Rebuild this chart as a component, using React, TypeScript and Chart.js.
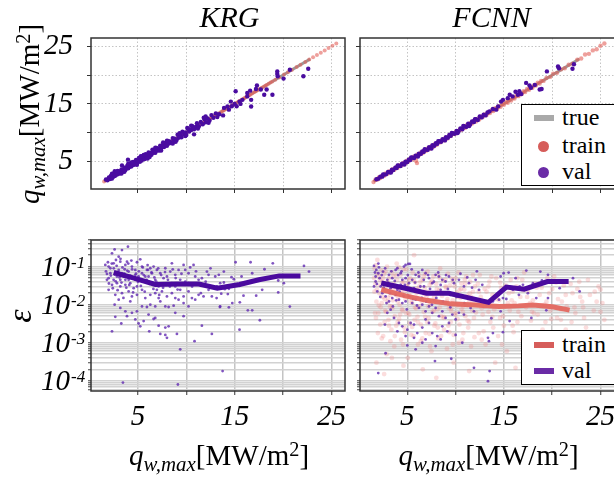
import React, { useEffect, useRef } from 'react';
import { Chart, registerables } from 'chart.js';

Chart.register(...registerables);

// ---------------------------------------------------------------- layout constants
const W = 640;
const H = 479;
const SERIF = '"Liberation Serif", "Times New Roman", serif';

// ---------------------------------------------------------------- tick data
const qTickValues = [5, 10, 15, 20, 25];
const qTickLabels = [5, 15, 25];
const errDecades = [-5, -4, -3, -2, -1];
const errMantissas = [1, 2, 3, 4, 5, 6, 7, 8, 9];
const errLabelExps = [-4, -3, -2, -1];

const Q_LEFT_RANGE = [0.15, 26.4];
const Q_RIGHT_RANGE = [0.1, 26.5];
const Q_Y_RANGE = [0.2, 26.46];
const ERR_RANGE = [5.4e-5, 0.5];

// ---------------------------------------------------------------- series data
// "true" reference line (q_true = q_pred) endpoints
const trueLineQ = [1.5, 22.8];

// KRG training samples: KRG interpolates its training points (pred == true)
const krgTrainQ = [
  1.5, 1.7, 1.85, 2.05, 2.2, 2.4, 2.55, 2.75, 2.95, 3.1, 3.3, 3.45, 3.65, 3.85, 4.0, 4.2, 4.4, 4.55,
  4.75, 4.95, 5.1, 5.3, 5.5, 5.65, 5.85, 6.05, 6.2, 6.4, 6.6, 6.75, 6.95, 7.15, 7.3, 7.5, 7.7, 7.85,
  8.05, 8.25, 8.4, 8.6, 8.8, 8.95, 9.15, 9.35, 9.5, 9.7, 9.9, 10.05, 10.25, 10.45, 10.6, 10.8, 11.0,
  11.15, 11.35, 11.55, 11.7, 11.9, 12.1, 12.25, 12.45, 12.65, 12.8, 13.0, 13.2, 13.35, 13.55, 13.75,
  13.9, 14.1, 14.3, 14.45, 14.65, 14.85, 15.0, 15.2, 15.4, 15.55, 15.75, 15.95, 16.1, 16.3, 16.5,
  16.65, 16.85, 17.05, 17.2, 17.4, 17.6, 17.75, 17.95, 18.15, 18.3, 18.5, 18.7, 18.9, 19.2, 19.6,
  20.1, 20.5, 20.9, 21.4, 21.8, 22.3, 22.7, 23.1, 23.5, 23.9, 24.3, 24.7, 25.1, 25.5,
];

// KRG validation [true, predicted]
const krgValTop = [
  [1.7, 1.85], [1.85, 1.7], [2.0, 2.2], [2.1, 1.95], [2.2, 2.45], [2.32, 2.85], [2.4, 2.25], [2.5, 2.8],
  [2.6, 2.45], [2.6, 3.3], [2.7, 2.6], [2.8, 3.1], [2.9, 2.75], [3.0, 3.3], [3.1, 2.9], [3.2, 3.05],
  [3.3, 3.6], [3.35, 4.3], [3.4, 3.2], [3.5, 3.45], [3.6, 3.9], [3.7, 3.5], [3.8, 3.75], [3.9, 4.25],
  [3.97, 5.3], [4.0, 3.8], [4.1, 4.05], [4.2, 4.55], [4.3, 4.1], [4.4, 4.3], [4.5, 4.9], [4.6, 4.4],
  [4.7, 4.65], [4.8, 5.25], [4.9, 4.7], [5.0, 5.05], [5.1, 5.6], [5.2, 4.95], [5.3, 5.45], [5.4, 5.15],
  [5.5, 5.95], [5.6, 5.5], [5.7, 5.4], [5.8, 6.25], [5.9, 5.8], [6.0, 6.05], [6.1, 6.55], [6.2, 6.0],
  [6.3, 6.45], [6.4, 6.15], [6.5, 7.05], [6.6, 6.5], [6.7, 6.8], [6.8, 6.5], [6.9, 7.35], [7.0, 6.9],
  [7.1, 7.25], [7.2, 6.9], [7.3, 7.75], [7.4, 7.3], [7.5, 7.55], [7.6, 7.95], [7.7, 7.5], [7.8, 8.15],
  [7.9, 7.8], [8.0, 7.7], [8.1, 8.55], [8.2, 8.1], [8.3, 8.45], [8.5, 8.2], [8.6, 9.05], [8.7, 8.6],
  [8.8, 8.95], [9.0, 8.7], [9.1, 9.65], [9.2, 9.1], [9.4, 9.55], [9.5, 9.2], [9.6, 10.15], [9.8, 9.7],
  [9.9, 10.05], [10.0, 9.6], [10.2, 10.65], [10.3, 10.2], [10.5, 10.45], [10.6, 11.15], [10.8, 10.6],
  [10.8, 9.7], [11.0, 11.05], [11.1, 11.65], [11.3, 11.1], [11.5, 11.85], [11.7, 11.45], [11.9, 12.35],
  [12.0, 11.8], [12.2, 12.45], [12.4, 12.1], [12.6, 13.05], [12.8, 12.6], [13.05, 13.35], [13.2, 12.7],
  [13.4, 13.2], [13.8, 13.0], [13.9, 14.3], [14.25, 14.55], [14.4, 14.0], [14.6, 15.4], [14.7, 14.6],
  [15.0, 15.0], [15.1, 17.2], [15.2, 14.6], [15.5, 15.4], [15.6, 15.0], [15.8, 15.7], [16.3, 16.3],
  [16.3, 16.9], [16.6, 17.3], [16.7, 14.55], [16.7, 15.7], [17.2, 17.6], [17.3, 18.2], [17.7, 17.5],
  [18.05, 16.6], [18.3, 17.5], [18.9, 16.6], [19.4, 20.65], [19.4, 20.2], [19.45, 19.8], [20.05, 19.4],
  [20.7, 20.95], [22.1, 19.8], [22.6, 21.1],
  [2.3, 2.0], [2.9, 3.35], [3.6, 3.2], [4.3, 4.8], [4.9, 4.4], [5.6, 6.1], [6.2, 5.75], [6.8, 7.4],
  [7.4, 6.9], [8.0, 8.6], [8.6, 8.1], [9.3, 9.9], [9.9, 9.4], [10.5, 11.2], [11.2, 10.7], [11.8, 12.6],
  [12.3, 11.7], [3.3, 2.9], [4.0, 4.6], [5.3, 5.9], [6.0, 5.5], [7.6, 8.3], [8.9, 8.4], [10.1, 10.8],
  [12.0, 12.8],
];

// FCNN training [true, predicted]
const fcnnTrainTop = [
  [1.5, 1.4], [1.7, 1.8], [1.9, 1.85], [2.05, 2.2], [2.2, 2.1], [2.4, 2.5], [2.6, 2.5], [2.75, 2.9],
  [2.95, 2.85], [3.1, 3.25], [3.3, 3.2], [3.5, 3.65], [3.65, 3.55], [3.85, 4.0], [4.0, 3.9], [4.2, 4.35],
  [4.4, 4.3], [4.55, 4.7], [4.75, 4.6], [4.95, 5.1], [5.1, 5.0], [5.3, 5.45], [5.5, 5.35], [5.65, 5.8],
  [5.85, 5.75], [5.9, 5.1], [6.0, 4.7], [6.05, 6.2], [6.2, 6.1], [6.4, 6.55], [6.6, 6.45], [6.75, 6.9],
  [6.95, 6.85], [7.15, 7.3], [7.3, 7.2], [7.5, 7.65], [7.7, 7.55], [7.85, 8.0], [8.05, 7.9], [8.25, 8.4],
  [8.4, 8.3], [8.6, 8.75], [8.8, 8.65], [8.95, 9.1], [9.15, 9.0], [9.35, 9.5], [9.5, 9.4], [9.7, 9.85],
  [9.9, 9.75], [10.05, 10.2], [10.25, 10.1], [10.45, 10.6], [10.6, 10.5], [10.8, 10.95], [11.0, 10.85],
  [11.15, 11.3], [11.35, 11.2], [11.55, 11.7], [11.7, 11.6], [11.9, 12.05], [12.1, 11.95], [12.25, 12.4],
  [12.45, 12.3], [12.65, 12.8], [12.8, 12.7], [13.0, 13.15], [13.2, 13.05], [13.35, 13.5], [13.55, 13.4],
  [13.75, 13.95], [13.9, 13.75], [14.1, 14.25], [14.3, 14.1], [14.45, 14.6], [14.65, 14.5], [14.85, 15.0],
  [15.0, 14.85], [15.2, 15.35], [15.4, 15.2], [15.55, 15.7], [15.75, 15.6], [15.95, 16.1], [16.1, 15.95],
  [16.3, 16.45], [16.5, 16.35], [16.65, 16.8], [16.85, 16.7], [17.05, 17.2], [17.2, 17.05], [17.4, 17.6],
  [17.6, 17.45], [17.75, 17.9], [17.95, 17.8], [18.15, 18.3], [18.3, 18.2], [18.5, 18.7], [18.7, 18.55],
  [18.85, 19.0], [19.1, 19.0], [19.4, 19.5], [19.8, 19.7], [20.1, 20.25], [20.5, 20.4], [20.9, 21.0],
  [21.3, 21.2], [21.7, 21.8], [22.1, 22.0], [22.6, 22.7], [23.0, 22.9], [23.4, 23.6], [23.8, 23.7],
  [24.2, 24.3], [24.6, 24.5], [25.0, 25.1], [25.4, 25.5],
];

// FCNN validation [true, predicted]
const fcnnValTop = [
  [1.8, 1.9], [2.0, 2.0], [2.2, 2.35], [2.4, 2.35], [2.6, 2.7], [2.8, 2.75], [3.0, 3.15], [3.2, 3.1],
  [3.4, 3.55], [3.55, 3.5], [3.75, 3.9], [3.9, 3.85], [4.1, 4.25], [4.3, 4.2], [4.45, 4.6], [4.6, 4.55],
  [4.8, 4.95], [5.0, 4.9], [5.15, 5.3], [5.3, 5.25], [5.5, 5.65], [5.7, 5.6], [5.85, 6.0], [6.0, 5.95],
  [6.2, 6.35], [6.4, 6.3], [6.55, 6.75], [6.7, 6.65], [6.9, 7.05], [7.1, 7.0], [7.25, 7.45], [7.4, 7.35],
  [7.6, 7.8], [7.8, 7.7], [7.95, 8.15], [8.1, 8.05], [8.3, 8.5], [8.5, 8.4], [8.65, 8.85], [8.8, 8.75],
  [9.0, 9.2], [9.2, 9.1], [9.35, 9.6], [9.5, 9.45], [9.7, 9.9], [9.9, 9.8], [10.1, 10.3], [10.3, 10.2],
  [10.5, 10.75], [10.7, 10.6], [10.9, 11.1], [11.1, 11.0], [11.3, 11.55], [11.5, 11.4], [11.7, 11.95],
  [11.9, 11.85], [12.1, 12.35], [12.3, 12.2], [12.5, 12.8], [12.7, 12.65], [12.9, 13.1], [13.1, 13.0],
  [13.3, 13.5], [13.5, 13.7], [13.86, 14.1], [14.2, 14.0], [14.4, 14.57], [14.7, 15.4], [14.9, 15.7],
  [15.4, 16.0], [15.6, 16.6], [15.9, 16.3], [16.2, 17.1], [16.45, 16.6], [16.6, 17.2], [16.8, 16.7],
  [17.3, 18.65], [17.65, 18.2], [17.8, 17.8], [18.2, 18.3], [18.7, 17.5], [18.9, 17.6], [19.45, 20.65],
  [20.6, 21.5], [20.7, 21.2], [22.1, 21.1], [22.25, 21.9],
  [2.5, 2.75], [3.3, 3.05], [4.0, 4.3], [4.7, 4.45], [5.4, 5.7], [6.1, 5.85], [6.8, 7.1], [7.5, 7.25],
  [8.2, 8.5], [8.9, 8.65], [9.6, 9.95], [10.2, 9.95], [10.8, 11.15], [11.4, 11.15], [12.0, 12.35],
];

// KRG validation relative error [q_true, eps]
const krgValErr = [
  [2.59, 0.283], [3.35, 0.272], [3.97, 0.333], [2.32, 0.223], [3.01, 0.182], [2.73, 0.149], [3.18, 0.135],
  [2.49, 0.122], [1.63, 0.111], [1.97, 0.1], [3.87, 0.135], [4.32, 0.144], [5.24, 0.155], [4.38, 0.1],
  [4.73, 0.0818], [4.04, 0.0741], [3.63, 0.0852], [3.35, 0.067], [3.01, 0.0818], [2.15, 0.067],
  [1.8, 0.0644], [1.97, 0.0497], [2.49, 0.0449], [2.83, 0.0367], [2.32, 0.0333], [3.18, 0.0301],
  [3.7, 0.0333], [4.21, 0.0367], [4.73, 0.0449], [5.07, 0.0549], [5.42, 0.067], [5.93, 0.0818],
  [6.28, 0.0905], [6.62, 0.1], [6.96, 0.0818], [6.1, 0.0549], [6.79, 0.0449], [7.31, 0.067],
  [7.65, 0.0497], [8.0, 0.0549], [8.51, 0.122], [8.34, 0.0741], [8.86, 0.0607], [9.2, 0.0818],
  [9.72, 0.111], [9.89, 0.0818], [10.23, 0.067], [10.75, 0.111], [10.92, 0.0549], [11.27, 0.0449],
  [11.61, 0.0497], [12.13, 0.0741], [12.3, 0.0607], [12.99, 0.0549], [13.16, 0.0301], [13.5, 0.0367],
  [1.97, 0.0246], [2.66, 0.0182], [3.35, 0.0201], [4.04, 0.0223], [4.38, 0.0165], [4.9, 0.0182],
  [5.42, 0.0246], [5.76, 0.0149], [6.28, 0.0182], [6.79, 0.0201], [7.14, 0.0149], [7.48, 0.0223],
  [8.0, 0.0165], [8.51, 0.0201], [8.86, 0.0301], [9.37, 0.0246], [9.72, 0.0165], [10.23, 0.0223],
  [10.58, 0.0149], [11.27, 0.0182], [11.78, 0.0165], [12.3, 0.0246], [12.64, 0.0165], [2.59, 0.01],
  [3.18, 0.0082], [3.7, 0.0067], [4.38, 0.0061], [4.9, 0.0067], [5.42, 0.009], [5.93, 0.0087],
  [6.28, 0.01], [6.79, 0.009], [7.31, 0.0122], [7.83, 0.009], [8.17, 0.0087], [8.69, 0.0094],
  [9.2, 0.0135], [9.72, 0.011], [10.23, 0.009], [10.92, 0.0135], [13.5, 0.009], [2.66, 0.0048],
  [3.87, 0.005], [4.73, 0.0041], [5.07, 0.0032], [5.24, 0.0027], [5.59, 0.0037], [6.1, 0.0055],
  [6.62, 0.0042], [6.79, 0.0045], [7.14, 0.0028], [7.83, 0.0025], [8.17, 0.0027], [8.86, 0.0061],
  [9.72, 0.005], [11.61, 0.0028], [2.32, 0.002], [3.28, 0.0032], [6.17, 0.002], [7.31, 0.0017],
  [7.83, 0.0016], [8.0, 0.00135], [9.03, 0.0017], [10.85, 0.0011], [12.64, 0.0017], [9.37, 0.00067],
  [13.75, 0.00018], [3.45, 0.00009], [9.13, 0.00008], [6.04, 0.0818], [4.73, 0.0607], [2.15, 0.0905],
  [3.52, 0.0549], [2.83, 0.0549], [4.9, 0.0301], [5.59, 0.0406], [6.45, 0.0367], [7.14, 0.0301],
  [7.65, 0.0333], [8.51, 0.0367], [9.37, 0.0449], [10.23, 0.0367], [4.04, 0.0449], [5.76, 0.0549],
  [6.45, 0.067], [7.83, 0.0905], [1.8, 0.0449], [3.18, 0.0449], [5.42, 0.1], [3.7, 0.111],
  [4.56, 0.0272], [6.96, 0.0246], [8.86, 0.0149], [4.21, 0.0122], [3.01, 0.0135],
  [15.09, 0.13], [16.64, 0.13], [18.94, 0.122], [22.16, 0.104], [22.68, 0.0741], [18.08, 0.0852],
  [16.81, 0.067], [13.88, 0.0741], [13.36, 0.0607], [14.67, 0.0527], [14.91, 0.0468], [15.5, 0.0313],
  [15.71, 0.0549], [13.88, 0.0383], [14.4, 0.0261], [13.98, 0.0255], [13.13, 0.0149], [13.61, 0.0194],
  [14.29, 0.019], [13.47, 0.0087], [14.4, 0.0085], [14.75, 0.011], [15.53, 0.0115], [15.91, 0.0172],
  [17.22, 0.0172], [17.84, 0.0246], [19.5, 0.0432], [20.08, 0.0367], [19.5, 0.021], [16.36, 0.0071],
  [16.81, 0.0071], [17.6, 0.0039], [15.5, 0.0022], [20.7, 0.0089],
  [1.7, 0.075], [1.9, 0.13], [2.0, 0.036], [2.2, 0.058], [2.3, 0.12], [2.4, 0.027], [2.5, 0.09],
  [2.6, 0.062], [2.7, 0.041], [2.8, 0.105], [2.9, 0.024], [3.0, 0.07], [3.1, 0.052], [3.2, 0.16],
  [3.3, 0.038], [3.4, 0.095], [3.5, 0.015], [3.6, 0.065], [3.7, 0.045], [3.8, 0.028], [3.9, 0.078],
  [4.0, 0.12], [4.1, 0.033], [4.2, 0.058], [4.4, 0.085], [4.5, 0.021], [4.6, 0.048], [4.8, 0.065],
  [4.9, 0.13], [5.0, 0.04], [5.1, 0.075], [5.3, 0.031], [5.5, 0.095], [5.6, 0.06], [5.7, 0.022],
  [5.9, 0.045], [6.0, 0.11], [6.2, 0.035], [6.4, 0.07], [6.6, 0.026], [6.7, 0.052], [6.9, 0.04],
  [7.1, 0.09], [7.2, 0.018], [7.4, 0.06], [7.6, 0.028], [7.8, 0.072], [8.1, 0.045], [8.3, 0.03],
  [8.6, 0.085], [8.9, 0.05], [9.1, 0.025], [9.5, 0.065], [9.9, 0.04], [10.4, 0.095], [10.6, 0.03],
  [11.0, 0.075], [11.5, 0.02], [12.0, 0.04], [12.5, 0.09],
];
const krgValErrLineQ = [2.5, 4.6, 6.8, 9.0, 11.3, 13.2, 15.5, 17.5, 19.6, 21.8];
const krgValErrLineE = [0.07, 0.05, 0.034, 0.035, 0.035, 0.027, 0.034, 0.045, 0.057, 0.057];

// FCNN relative error [q_true, eps]
const fcnnTrainErr = [
  [1.6, 0.09], [1.7, 0.035], [1.8, 0.012], [1.9, 0.15], [2.0, 0.006], [2.05, 0.055], [2.1, 0.02],
  [2.2, 0.003], [2.3, 0.08], [2.35, 0.011], [2.4, 0.04], [2.5, 0.0015], [2.55, 0.022], [2.6, 0.065],
  [2.7, 0.007], [2.8, 0.03], [2.85, 0.0005], [2.9, 0.1], [3.0, 0.015], [3.05, 0.004], [3.1, 0.05],
  [3.2, 0.009], [3.3, 0.025], [3.35, 0.0022], [3.4, 0.07], [3.5, 0.013], [3.6, 0.035], [3.65, 0.0008],
  [3.7, 0.005], [3.8, 0.018], [3.9, 0.12], [3.95, 0.045], [4.0, 0.0035], [4.1, 0.028], [4.2, 0.01],
  [4.3, 0.06], [4.35, 0.0012], [4.4, 0.02], [4.5, 0.007], [4.6, 0.04], [4.7, 0.0025], [4.8, 0.014],
  [4.9, 0.085], [5.0, 0.03], [5.05, 0.0004], [5.1, 0.006], [5.2, 0.018], [5.3, 0.05], [5.4, 0.0016],
  [5.5, 0.011], [5.6, 0.025], [5.7, 0.2], [5.75, 0.004], [5.8, 0.038], [5.9, 0.008], [6.0, 0.015],
  [6.1, 0.0009], [6.2, 0.06], [6.3, 0.022], [6.4, 0.003], [6.5, 0.012], [6.6, 0.045], [6.7, 0.0065],
  [6.8, 0.028], [6.9, 0.0018], [7.0, 0.016], [7.1, 0.075], [7.2, 0.0045], [7.3, 0.033], [7.4, 0.01],
  [7.5, 0.0006], [7.6, 0.02], [7.7, 0.055], [7.8, 0.0028], [7.9, 0.013], [8.0, 0.035], [8.1, 0.0075],
  [8.2, 0.0013], [8.3, 0.024], [8.4, 0.09], [8.5, 0.005], [8.6, 0.017], [8.7, 0.042], [8.8, 0.0022],
  [8.9, 0.011], [9.0, 0.028], [9.1, 0.0007], [9.2, 0.065], [9.3, 0.008], [9.4, 0.019], [9.5, 0.0035],
  [9.6, 0.048], [9.7, 0.013], [9.8, 0.0016], [9.9, 0.03], [10.0, 0.006], [10.1, 0.021], [10.2, 0.0095],
  [10.3, 0.07], [10.4, 0.003], [10.5, 0.015], [10.6, 0.036], [10.7, 0.0012], [10.8, 0.009],
  [10.9, 0.025], [11.0, 0.005], [11.1, 0.055], [11.2, 0.017], [11.3, 0.0025], [11.4, 0.012],
  [11.5, 0.04], [11.6, 0.0008], [11.7, 0.007], [11.8, 0.022], [11.9, 0.0045], [12.0, 0.03],
  [12.2, 0.011], [12.4, 0.0018], [12.5, 0.06], [12.6, 0.016], [12.8, 0.0055], [13.0, 0.026],
  [13.1, 0.0009], [13.3, 0.012], [13.5, 0.04], [13.6, 0.0035], [13.8, 0.018], [14.0, 0.0075],
  [14.2, 0.05], [14.4, 0.0015], [14.5, 0.013], [14.7, 0.028], [14.9, 0.005], [15.1, 0.009],
  [15.3, 0.0006], [15.5, 0.02], [15.7, 0.045], [15.9, 0.0028], [16.1, 0.011], [16.3, 0.03],
  [16.5, 0.0065], [16.7, 0.016], [16.9, 0.0012], [17.1, 0.07], [17.3, 0.0085], [17.5, 0.022],
  [17.8, 0.0038], [18.0, 0.013], [18.2, 0.035], [18.5, 0.0055], [18.7, 0.018], [19.0, 0.0022],
  [19.2, 0.01], [19.5, 0.05], [19.8, 0.007], [20.0, 0.026], [20.3, 0.0014], [20.6, 0.014], [20.9, 0.004],
  [21.2, 0.032], [21.5, 0.009], [21.8, 0.0003], [22.1, 0.02], [22.4, 0.006], [22.8, 0.04], [23.1, 0.012],
  [23.5, 0.0025], [23.9, 0.018], [24.3, 0.007], [24.8, 0.03], [25.2, 0.011], [1.8, 0.0003],
  [2.6, 0.00015], [3.4, 0.0004], [4.6, 0.00025], [6.6, 0.0002], [8.0, 0.00012], [9.8, 0.0003],
  [11.4, 0.00018], [14.1, 0.0003], [16.2, 0.00022], [18.8, 0.00035], [20.6, 0.00012],
  [1.55, 0.05], [1.65, 0.006], [1.75, 0.11], [1.85, 0.025], [1.95, 0.0018], [2.15, 0.045], [2.25, 0.0085],
  [2.45, 0.016], [2.65, 0.0035], [2.75, 0.075], [2.95, 0.012], [3.15, 0.032], [3.25, 0.0011], [3.45, 0.008],
  [3.55, 0.055], [3.75, 0.024], [3.85, 0.0028], [4.05, 0.016], [4.15, 0.095], [4.25, 0.0055], [4.45, 0.038],
  [4.55, 0.0009], [4.75, 0.022], [4.85, 0.006], [5.15, 0.045], [5.25, 0.0032], [5.45, 0.015], [5.55, 0.07],
  [5.65, 0.0015], [5.95, 0.026], [6.05, 0.0048], [6.25, 0.009], [6.35, 0.04], [6.55, 0.0013], [6.75, 0.019],
  [6.85, 0.065], [7.05, 0.0035], [7.25, 0.012], [7.35, 0.0008], [7.55, 0.042], [7.75, 0.007], [7.95, 0.02],
  [8.15, 0.0025], [8.35, 0.05], [8.55, 0.011], [8.75, 0.0045], [8.95, 0.03], [9.15, 0.014], [9.35, 0.0019],
  [9.55, 0.008], [9.75, 0.04], [9.95, 0.0055], [10.15, 0.016], [10.35, 0.001], [10.55, 0.026], [10.75, 0.0065],
  [10.95, 0.045], [11.25, 0.0038], [11.45, 0.02], [11.75, 0.011], [11.95, 0.0014], [12.3, 0.035], [12.7, 0.008],
  [12.9, 0.002], [13.2, 0.022], [13.4, 0.0065], [13.7, 0.055], [13.9, 0.0025], [14.3, 0.017], [14.6, 0.0045],
  [14.8, 0.0009], [15.2, 0.032], [15.6, 0.007], [15.8, 0.013], [16.0, 0.0019], [16.4, 0.05], [16.8, 0.005],
  [17.0, 0.024], [17.4, 0.0013], [17.7, 0.011], [18.1, 0.006], [18.4, 0.028], [18.9, 0.0095], [19.3, 0.0035],
  [19.7, 0.02], [20.2, 0.055], [20.5, 0.0045], [21.0, 0.012], [21.4, 0.0022], [21.9, 0.035], [22.3, 0.0085],
  [22.9, 0.016], [23.3, 0.0045], [23.7, 0.045], [24.1, 0.0014], [24.6, 0.012], [25.0, 0.025], [25.4, 0.004],
  [1.6, 0.022], [1.75, 0.0045], [1.9, 0.065], [2.05, 0.0095], [2.2, 0.032], [2.35, 0.0013], [2.5, 0.05],
  [2.65, 0.014], [2.8, 0.0065], [2.95, 0.04], [3.1, 0.0028], [3.25, 0.018], [3.4, 0.009], [3.55, 0.03],
  [3.7, 0.0015], [3.85, 0.06], [4.0, 0.012], [4.15, 0.0042], [4.3, 0.024], [4.45, 0.0075], [4.6, 0.085],
  [4.75, 0.0019], [4.9, 0.017], [5.05, 0.036], [5.2, 0.0055], [5.35, 0.012], [5.5, 0.0026], [5.65, 0.045],
  [5.8, 0.0085], [5.95, 0.02], [6.1, 0.0035], [6.25, 0.03], [6.4, 0.0011], [6.55, 0.014], [6.7, 0.055],
  [6.85, 0.0048], [7.0, 0.022], [7.15, 0.009], [7.3, 0.0017], [7.45, 0.038], [7.6, 0.0065], [7.75, 0.015],
  [7.9, 0.0032], [8.05, 0.026], [8.2, 0.06], [8.35, 0.0085], [8.5, 0.0015], [8.65, 0.02], [8.8, 0.0048],
  [8.95, 0.045], [9.1, 0.012], [9.25, 0.0028], [9.4, 0.032], [9.55, 0.0068], [9.7, 0.0009], [9.85, 0.018],
  [10.0, 0.05], [10.2, 0.0042], [10.4, 0.024], [10.6, 0.0078], [10.8, 0.0018], [11.0, 0.035], [11.2, 0.0095],
  [11.4, 0.0035], [11.6, 0.016], [11.8, 0.06], [12.1, 0.0062], [12.4, 0.022], [12.7, 0.0012], [13.0, 0.009],
  [13.4, 0.03], [13.8, 0.0048], [14.2, 0.014], [14.6, 0.038], [15.0, 0.0028], [15.4, 0.011], [15.9, 0.022],
  [16.4, 0.0035], [16.9, 0.045], [17.4, 0.016], [17.9, 0.0065], [18.4, 0.0018], [18.9, 0.028], [19.4, 0.012],
  [19.9, 0.0042], [20.4, 0.038], [20.9, 0.0075], [21.4, 0.018], [22.0, 0.0035], [22.6, 0.026], [23.2, 0.0085],
  [23.8, 0.0019], [24.4, 0.022], [25.0, 0.0065],
];
const fcnnValErr = [
  [1.55, 0.104], [1.79, 0.0818], [1.99, 0.067], [2.13, 0.0497], [1.72, 0.0406], [1.55, 0.0301],
  [2.24, 0.0301], [2.58, 0.0367], [2.93, 0.0449], [3.1, 0.0607], [3.44, 0.0497], [3.79, 0.0818],
  [3.97, 0.0905], [4.31, 0.067], [4.65, 0.1], [4.82, 0.111], [5.1, 0.1175], [5.27, 0.1175],
  [4.48, 0.0449], [4.82, 0.0497], [5.17, 0.0367], [5.51, 0.0449], [5.86, 0.0607], [6.2, 0.0549],
  [6.55, 0.0818], [6.89, 0.067], [7.24, 0.0497], [7.58, 0.0367], [7.93, 0.0607], [8.27, 0.0549],
  [8.62, 0.0449], [8.96, 0.0406], [9.31, 0.0549], [9.83, 0.0367], [10.34, 0.0449], [10.86, 0.0301],
  [11.38, 0.0367], [12.07, 0.0449], [12.42, 0.0246], [12.76, 0.0333], [1.89, 0.0223], [2.41, 0.0201],
  [2.75, 0.0165], [3.1, 0.0122], [3.44, 0.0149], [3.79, 0.0182], [4.13, 0.0135], [4.48, 0.011],
  [4.82, 0.0122], [5.17, 0.0165], [5.51, 0.011], [5.86, 0.0135], [6.2, 0.0082], [6.55, 0.01],
  [6.89, 0.0067], [7.24, 0.009], [7.58, 0.0061], [7.93, 0.0082], [8.27, 0.005], [8.62, 0.0067],
  [8.96, 0.0045], [9.31, 0.0033], [9.66, 0.0055], [10.0, 0.0041], [10.34, 0.0061], [10.86, 0.0055],
  [11.55, 0.0082], [11.9, 0.0067], [2.93, 0.0061], [3.27, 0.0074], [3.62, 0.0045], [4.13, 0.0033],
  [4.48, 0.0027], [5.0, 0.0022], [5.34, 0.0033], [5.69, 0.003], [6.03, 0.0018], [6.55, 0.0025],
  [6.89, 0.0041], [7.24, 0.0033], [7.58, 0.0018], [8.1, 0.0015], [8.62, 0.0027], [9.14, 0.002],
  [10.0, 0.0016], [10.69, 0.001], [2.68, 0.003], [3.97, 0.002], [4.82, 0.0015], [5.0, 0.00085],
  [5.69, 0.00135], [6.55, 0.001], [6.89, 0.00122], [7.93, 0.00082], [8.45, 0.00122], [2.75, 0.00053],
  [5.86, 0.00067], [7.86, 0.00033], [9.55, 0.00038], [1.99, 0.00016], [11.9, 0.00022], [1.72, 0.0549],
  [2.06, 0.096], [2.48, 0.0741], [3.27, 0.0272], [3.62, 0.0301], [3.97, 0.0246], [4.31, 0.0333],
  [5.69, 0.0272], [6.38, 0.0223], [6.72, 0.0301], [7.07, 0.0201], [8.45, 0.0246], [8.79, 0.0201],
  [9.48, 0.0182], [14.66, 0.0549], [14.97, 0.067], [15.49, 0.0697], [16.21, 0.0497], [17.32, 0.0787],
  [18.77, 0.0741], [19.56, 0.0607], [22.15, 0.0497], [16.97, 0.0333], [16.63, 0.0301], [18.0, 0.0367],
  [18.93, 0.0432], [14.9, 0.0149], [14.49, 0.0135], [15.25, 0.0141], [15.93, 0.0246], [16.55, 0.0182],
  [17.48, 0.0201], [18.35, 0.0149], [19.56, 0.0149], [20.77, 0.0272], [13.86, 0.0122], [14.66, 0.0067],
  [17.84, 0.0045], [19.39, 0.0071], [15.59, 0.0037], [13.7, 0.0044], [13.86, 0.0018], [14.9, 0.0019],
  [13.35, 0.00135], [13.45, 0.0011], [13.52, 0.00018], [13.35, 0.000098], [22.84, 0.0223],
  [1.65, 0.07], [1.85, 0.035], [2.0, 0.12], [2.2, 0.016], [2.35, 0.06], [2.55, 0.028], [2.7, 0.09],
  [2.85, 0.011], [3.0, 0.038], [3.2, 0.02], [3.35, 0.075], [3.5, 0.009], [3.7, 0.042], [3.85, 0.013],
  [4.05, 0.06], [4.2, 0.022], [4.4, 0.075], [4.6, 0.017], [4.75, 0.033], [4.95, 0.0075], [5.05, 0.06],
  [5.25, 0.024], [5.45, 0.085], [5.6, 0.014], [5.8, 0.038], [6.0, 0.0095], [6.15, 0.07], [6.35, 0.03],
  [6.5, 0.015], [6.7, 0.045], [6.95, 0.012], [7.15, 0.06], [7.35, 0.026], [7.55, 0.01], [7.75, 0.04],
  [8.0, 0.015], [8.2, 0.07], [8.45, 0.033], [8.7, 0.012], [9.0, 0.06], [9.2, 0.026], [9.45, 0.0085],
  [9.7, 0.045], [10.1, 0.016], [10.5, 0.065], [10.9, 0.011], [11.2, 0.052], [11.7, 0.028], [12.2, 0.075],
];
const fcnnTrainErrLineQ = [2.3, 4.8, 7.0, 9.5, 12.0, 14.5, 16.5, 18.0, 20.0, 21.8];
const fcnnTrainErrLineE = [0.025, 0.017, 0.013, 0.0105, 0.0098, 0.009, 0.0093, 0.0098, 0.0088, 0.0072];
const fcnnValErrLineQ = [2.3, 4.8, 7.0, 9.3, 10.7, 13.4, 15.25, 17.1, 19.5, 21.7];
const fcnnValErrLineE = [0.037, 0.027, 0.02, 0.02, 0.0165, 0.0115, 0.029, 0.0256, 0.0406, 0.0406];

// ---------------------------------------------------------------- colours
const VAL_DOT = '#4a0ca0';
const VAL_ERR_DOT = 'rgba(98,42,178,0.8)';
const VAL_LINE = '#4a0a9e';
const TRAIN_DOT = 'rgba(226,96,90,0.6)';
const TRAIN_ERR_DOT = 'rgba(240,128,128,0.27)';
const TRAIN_LINE = 'rgba(228,104,96,0.95)';
const TRUE_LINE = 'rgba(135,135,135,0.85)';

// ---------------------------------------------------------------- plugins
const framePlugin = {
  id: 'frame',
  afterDatasetsDraw(chart: any) {
    const { ctx, chartArea } = chart;
    ctx.save();
    ctx.strokeStyle = '#333';
    ctx.lineWidth = 1.5;
    ctx.strokeRect(chartArea.left, chartArea.top, chartArea.right - chartArea.left, chartArea.bottom - chartArea.top);
    ctx.restore();
  },
};

const logLabelPlugin = {
  id: 'logLabels',
  afterDraw(chart: any, _args: any, opts: any) {
    if (!opts || !opts.show) return;
    const s = chart.scales.y;
    const ctx = chart.ctx;
    ctx.save();
    ctx.fillStyle = '#000';
    for (const e of errLabelExps) {
      const py = s.getPixelForValue(Math.pow(10, e));
      const xr = s.right - 21;
      ctx.font = `italic 29px ${SERIF}`;
      ctx.textAlign = 'right';
      ctx.textBaseline = 'alphabetic';
      ctx.fillText('10', xr, py + 9);
      ctx.font = `italic 17px ${SERIF}`;
      ctx.textAlign = 'left';
      ctx.fillText(String(e), xr + 1, py + 1);
    }
    ctx.restore();
  },
};

// ---------------------------------------------------------------- chart config builder
type Rect = { l: number; t: number; r: number; b: number };
const Y_W = 60;
const X_H = 50;

function xy(pairs: number[][]) {
  return pairs.map(([x, y]) => ({ x, y }));
}
function zipXY(xs: number[], ys: number[]) {
  return xs.map((x, i) => ({ x, y: ys[i] }));
}

function makeConfig(rect: Rect, xRange: number[], opts: {
  log: boolean; xLabels: boolean; yLabels: boolean; datasets: any[];
}) {
  const tickFont = { family: SERIF, size: 29, style: 'italic' as const };
  const logTicks = errDecades
    .flatMap((e) => errMantissas.map((m) => m * Math.pow(10, e)))
    .filter((v) => v >= ERR_RANGE[0] && v <= ERR_RANGE[1]);
  const xGrid = opts.log
    ? { color: '#c4c4c4', lineWidth: 1.5, drawTicks: true, tickLength: 4, tickColor: '#333', tickWidth: 1 }
    : { color: '#c4c4c4', lineWidth: 1, drawTicks: true, tickLength: 4, tickColor: '#333', tickWidth: 1 };
  const yGrid = opts.log
    ? { color: '#d2d2d2', lineWidth: 1.5, drawTicks: true, tickLength: 3, tickColor: '#444', tickWidth: 1 }
    : { color: '#c4c4c4', lineWidth: 1, drawTicks: true, tickLength: 4, tickColor: '#333', tickWidth: 1 };
  return {
    type: 'scatter' as const,
    data: { datasets: opts.datasets },
    plugins: [framePlugin, logLabelPlugin],
    options: {
      responsive: false,
      animation: false as const,
      devicePixelRatio: 1,
      events: [],
      layout: { padding: { left: rect.l - Y_W, top: rect.t, right: W - rect.r, bottom: H - rect.b - X_H } },
      plugins: {
        legend: { display: false },
        tooltip: { enabled: false },
        title: { display: false },
        logLabels: { show: opts.log && opts.yLabels },
      },
      scales: {
        x: {
          type: 'linear',
          min: xRange[0],
          max: xRange[1],
          afterFit: (s: any) => { s.height = X_H; },
          afterBuildTicks: (s: any) => { s.ticks = qTickValues.map((v) => ({ value: v })); },
          ticks: {
            display: opts.xLabels,
            autoSkip: false,
            maxRotation: 0,
            padding: 5,
            color: '#000',
            font: tickFont,
            callback: (v: any) => (qTickLabels.includes(Number(v)) ? String(v) : ''),
          },
          grid: xGrid,
          border: { display: false, dash: opts.log ? [] : [1.5, 2] },
        },
        y: opts.log
          ? {
              type: 'logarithmic',
              min: ERR_RANGE[0],
              max: ERR_RANGE[1],
              afterFit: (s: any) => { s.width = Y_W; },
              afterBuildTicks: (s: any) => { s.ticks = logTicks.map((v) => ({ value: v })); },
              ticks: { display: false, autoSkip: false },
              grid: yGrid,
              border: { display: false },
            }
          : {
              type: 'linear',
              min: Q_Y_RANGE[0],
              max: Q_Y_RANGE[1],
              afterFit: (s: any) => { s.width = Y_W; },
              afterBuildTicks: (s: any) => { s.ticks = qTickValues.map((v) => ({ value: v })); },
              ticks: {
                display: opts.yLabels,
                autoSkip: false,
                padding: 14,
                color: '#000',
                font: tickFont,
                callback: (v: any) => (qTickLabels.includes(Number(v)) ? String(v) : ''),
              },
              grid: yGrid,
              border: { display: false, dash: [1.5, 2] },
            },
      },
    },
  };
}

function trueDataset() {
  return {
    label: 'true',
    data: zipXY(trueLineQ, trueLineQ),
    showLine: true,
    borderColor: TRUE_LINE,
    borderWidth: 3,
    pointRadius: 0,
    order: 3,
  };
}

const panels = [
  {
    key: 'tl',
    build: () =>
      makeConfig({ l: 91, t: 38, r: 345, b: 189 }, Q_LEFT_RANGE, {
        log: false, xLabels: false, yLabels: true,
        datasets: [
          trueDataset(),
          { label: 'train', data: zipXY(krgTrainQ, krgTrainQ), backgroundColor: TRAIN_DOT, borderWidth: 0, pointRadius: 2, order: 2 },
          { label: 'val', data: xy(krgValTop), backgroundColor: VAL_DOT, borderWidth: 0, pointRadius: 2.2, order: 1 },
        ],
      }),
  },
  {
    key: 'tr',
    build: () =>
      makeConfig({ l: 360, t: 38, r: 615, b: 189 }, Q_RIGHT_RANGE, {
        log: false, xLabels: false, yLabels: false,
        datasets: [
          trueDataset(),
          { label: 'train', data: xy(fcnnTrainTop), backgroundColor: TRAIN_DOT, borderWidth: 0, pointRadius: 2.2, order: 2 },
          { label: 'val', data: xy(fcnnValTop), backgroundColor: VAL_DOT, borderWidth: 0, pointRadius: 2.2, order: 1 },
        ],
      }),
  },
  {
    key: 'bl',
    build: () =>
      makeConfig({ l: 91, t: 240, r: 345, b: 391 }, Q_LEFT_RANGE, {
        log: true, xLabels: true, yLabels: true,
        datasets: [
          { label: 'val', data: xy(krgValErr), backgroundColor: VAL_ERR_DOT, borderWidth: 0, pointRadius: 1.4, order: 2 },
          { label: 'val mean', data: zipXY(krgValErrLineQ, krgValErrLineE), showLine: true, borderColor: VAL_LINE, borderWidth: 5, pointRadius: 0, order: 1 },
        ],
      }),
  },
  {
    key: 'br',
    build: () =>
      makeConfig({ l: 360, t: 240, r: 615, b: 391 }, Q_RIGHT_RANGE, {
        log: true, xLabels: true, yLabels: false,
        datasets: [
          { label: 'train', data: xy(fcnnTrainErr), backgroundColor: TRAIN_ERR_DOT, borderWidth: 0, pointRadius: 2.4, order: 4 },
          { label: 'val', data: xy(fcnnValErr), backgroundColor: VAL_ERR_DOT, borderWidth: 0, pointRadius: 1.4, order: 3 },
          { label: 'train mean', data: zipXY(fcnnTrainErrLineQ, fcnnTrainErrLineE), showLine: true, borderColor: TRAIN_LINE, borderWidth: 5, pointRadius: 0, order: 2 },
          { label: 'val mean', data: zipXY(fcnnValErrLineQ, fcnnValErrLineE), showLine: true, borderColor: VAL_LINE, borderWidth: 5, pointRadius: 0, order: 1 },
        ],
      }),
  },
];

function Panel({ build }: { build: () => any }) {
  const ref = useRef<HTMLCanvasElement>(null);
  useEffect(() => {
    const chart = new Chart(ref.current as HTMLCanvasElement, build());
    return () => chart.destroy();
  }, []);
  return (
    <canvas
      ref={ref}
      width={W}
      height={H}
      style={{ position: 'absolute', left: 0, top: 0, width: W, height: H }}
    />
  );
}

// ---------------------------------------------------------------- text helpers
function QLabel() {
  return (
    <>
      <span style={{ fontStyle: 'italic' }}>q</span>
      <span style={{ fontStyle: 'italic', fontSize: '0.72em', position: 'relative', top: '0.3em' }}>w,max</span>
      <span>[MW/m</span>
      <span style={{ fontSize: '0.7em', position: 'relative', top: '-0.45em' }}>2</span>
      <span>]</span>
    </>
  );
}

const textBase: React.CSSProperties = {
  position: 'absolute',
  fontFamily: SERIF,
  lineHeight: 1,
  whiteSpace: 'nowrap',
  color: '#000',
};

function LegendBox({ top, height, items }: { top: number; height: number; items: { label: string; kind: string; color: string; y: number }[] }) {
  return (
    <div
      style={{
        position: 'absolute', left: 521, top, width: 110, height,
        border: '1.5px solid #000', background: '#fff', boxSizing: 'border-box',
      }}
    >
      {items.map((it) => (
        <React.Fragment key={it.label}>
          {it.kind === 'circle' ? (
            <div style={{ position: 'absolute', left: 16, top: it.y - 5.5, width: 11, height: 11, borderRadius: '50%', background: it.color }} />
          ) : (
            <div style={{ position: 'absolute', left: 12, top: it.y - 3, width: 20, height: 6, background: it.color }} />
          )}
          <div style={{ ...textBase, left: 40, top: it.y + 7 - 0.8375 * 24, fontSize: 24 }}>{it.label}</div>
        </React.Fragment>
      ))}
    </div>
  );
}

export default function App() {
  return (
    <div style={{ position: 'fixed', left: 0, top: 0, width: 614, height: 479, overflow: 'hidden', background: '#fff' }}>
      {panels.map((p) => (
        <Panel key={p.key} build={p.build} />
      ))}

      {/* titles */}
      <div style={{ ...textBase, left: 229.5, top: 1.6, fontSize: 30, fontStyle: 'italic', transform: 'translateX(-50%)' }}>KRG</div>
      <div style={{ ...textBase, left: 491.5, top: 1.6, fontSize: 30, fontStyle: 'italic', transform: 'translateX(-50%)' }}>FCNN</div>

      {/* y labels */}
      <div style={{ ...textBase, left: 29, top: 114, fontSize: 29, transform: 'translate(-50%, -50%) rotate(-90deg)' }}>
        <QLabel />
      </div>
      <div style={{ ...textBase, left: 20, top: 316, fontSize: 34, fontStyle: 'italic', transform: 'translate(-50%, -50%) rotate(-90deg)' }}>ε</div>

      {/* x labels */}
      <div style={{ ...textBase, left: 219, top: 465 - 0.8375 * 29, fontSize: 29, transform: 'translateX(-50%)' }}>
        <QLabel />
      </div>
      <div style={{ ...textBase, left: 488.5, top: 465 - 0.8375 * 29, fontSize: 29, transform: 'translateX(-50%)' }}>
        <QLabel />
      </div>

      {/* legends */}
      <LegendBox
        top={104}
        height={82}
        items={[
          { label: 'true', kind: 'bar', color: '#a9a9a9', y: 13 },
          { label: 'train', kind: 'circle', color: '#d65d5a', y: 41 },
          { label: 'val', kind: 'circle', color: '#6a2ba6', y: 67 },
        ]}
      />
      <LegendBox
        top={330}
        height={55}
        items={[
          { label: 'train', kind: 'bar', color: '#d65d5a', y: 14 },
          { label: 'val', kind: 'bar', color: '#6a2ba6', y: 40 },
        ]}
      />
    </div>
  );
}
